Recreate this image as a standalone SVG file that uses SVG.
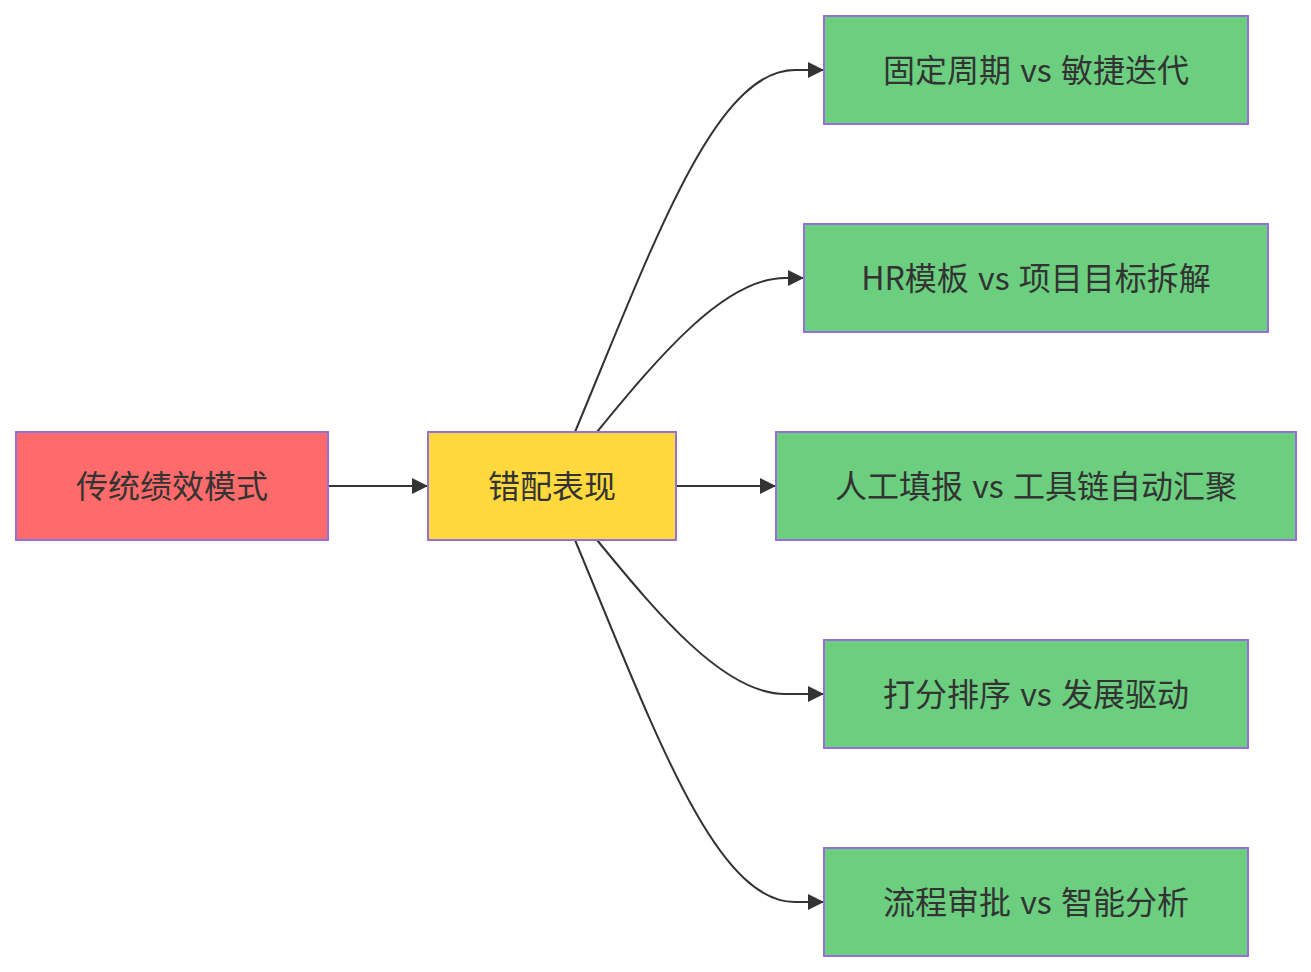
<svg xmlns="http://www.w3.org/2000/svg" width="1311" height="972" viewBox="0 0 1311 972">
<style>
.n rect{stroke:#9370DB;stroke-width:2}
.n text{font-family:"Noto Sans CJK SC","Liberation Sans",sans-serif;font-size:32px;fill:#333;text-anchor:middle;dominant-baseline:central;word-spacing:2px}
.e path{fill:none;stroke:#333;stroke-width:2;marker-end:url(#arr)}
</style>
<defs>
<marker id="arr" viewBox="0 0 10 10" refX="10" refY="5" markerUnits="userSpaceOnUse" markerWidth="16" markerHeight="16" orient="auto">
<path d="M0,0 L10,5 L0,10 z" fill="#333"/>
</marker>
</defs>
<rect width="1311" height="972" fill="#fff"/>
<g class="e">
<path d="M328,486 L428,486"/>
<path d="M676,486 L776,486"/>
<path d="M575,432 C655,240 715,70 795,70 L824,70"/>
<path d="M597,432 C660,355 725,278 785,278 L804,278"/>
<path d="M597,540 C660,617 725,694 785,694 L824,694"/>
<path d="M575,540 C655,732 715,902 795,902 L824,902"/>
</g>
<g id="A" class="n"><rect x="16" y="432" width="312" height="108" fill="#ff6b6b"/><text x="172" y="484">传统绩效模式</text></g>
<g id="B" class="n"><rect x="428" y="432" width="248" height="108" fill="#ffd93d"/><text x="552" y="484">错配表现</text></g>
<g id="G1" class="n"><rect x="824" y="16" width="424" height="108" fill="#6bcf7f"/><text x="1036" y="68">固定周期 vs 敏捷迭代</text></g>
<g id="G2" class="n"><rect x="804" y="224" width="464" height="108" fill="#6bcf7f"/><text x="1036" y="276">HR模板 vs 项目目标拆解</text></g>
<g id="G3" class="n"><rect x="776" y="432" width="520" height="108" fill="#6bcf7f"/><text x="1036" y="484">人工填报 vs 工具链自动汇聚</text></g>
<g id="G4" class="n"><rect x="824" y="640" width="424" height="108" fill="#6bcf7f"/><text x="1036" y="692">打分排序 vs 发展驱动</text></g>
<g id="G5" class="n"><rect x="824" y="848" width="424" height="108" fill="#6bcf7f"/><text x="1036" y="900">流程审批 vs 智能分析</text></g>
</svg>
